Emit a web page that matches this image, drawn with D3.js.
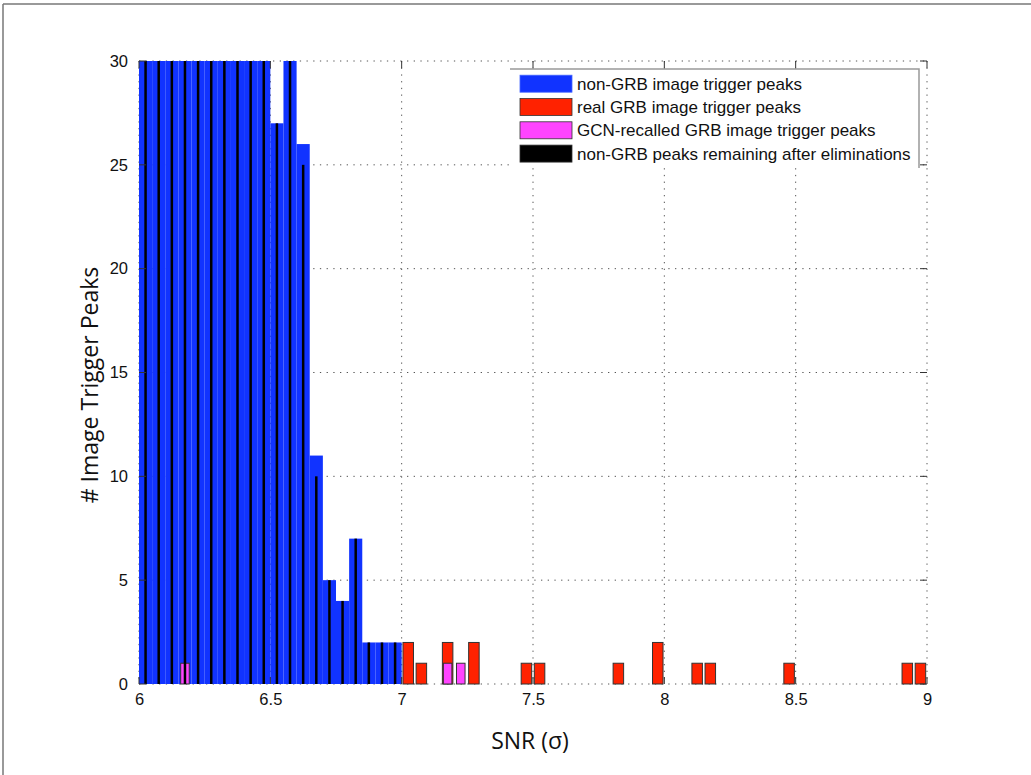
<!DOCTYPE html>
<html>
<head>
<meta charset="utf-8">
<script src="https://cdn.jsdelivr.net/npm/d3@7"></script>
<style>
  html, body { margin: 0; padding: 0; background: #fff; }
  svg { display: block; }
</style>
</head>
<body>
<svg id="chart" width="1031" height="775"></svg>
<script>
// Histogram bins: SNR from 6.0 to 9.0 in steps of 0.05
const binWidth = 0.05;
const binStarts = d3.range(60).map(i => +(6 + i * binWidth).toFixed(2));

// non-GRB image trigger peaks (bars above 30 are clipped by the axis)
const nonGrbBins = d3.range(0, 20);
const nonGrbCounts = [30, 30, 30, 30, 30, 30, 30, 30, 30, 30,
                      27, 30, 26, 11, 5, 4, 7, 2, 2, 2];

// non-GRB peaks remaining after eliminations
const remainingBins = d3.range(0, 20);
const remainingCounts = [30, 30, 30, 30, 30, 30, 30, 30, 30, 30,
                         27, 30, 25, 10, 5, 4, 7, 2, 2, 2];

// real GRB image trigger peaks
const grbBins = [20, 21, 23, 25, 29, 30, 36, 39, 42, 43, 49, 58, 59];
const grbCounts = [2, 1, 2, 2, 1, 1, 1, 2, 1, 1, 1, 1, 1];

// GCN-recalled GRB image trigger peaks
const gcnBins = [3, 23, 24];
const gcnCounts = [1, 1, 1];

const xTicks = [6, 6.5, 7, 7.5, 8, 8.5, 9];
const yTicks = [0, 5, 10, 15, 20, 25, 30];

const legendLabels = [
  "non-GRB image trigger peaks",
  "real GRB image trigger peaks",
  "GCN-recalled GRB image trigger peaks",
  "non-GRB peaks remaining after eliminations"
];
const legendColors = ["#1133ff", "#ff2200", "#ff44ff", "#000000"];

const svg = d3.select("#chart");
const W = 1031, H = 775;
const plot = { left: 139, right: 927, top: 61, bottom: 684 };

const x = d3.scaleLinear().domain([6, 9]).range([plot.left, plot.right]);
const y = d3.scaleLinear().domain([0, 30]).range([plot.bottom, plot.top]);

// page frame
svg.append("line").attr("x1", 3).attr("x2", W).attr("y1", 4).attr("y2", 4)
  .attr("stroke", "#777").attr("stroke-width", 1.5);
svg.append("line").attr("x1", 3).attr("x2", 3).attr("y1", 4).attr("y2", H)
  .attr("stroke", "#777").attr("stroke-width", 1.5);

// grid (dotted), including the box edges
const gridStyle = g => g.attr("stroke", "#555").attr("stroke-width", 1)
  .attr("stroke-dasharray", "1.3,5.4").attr("fill", "none");
const grid = svg.append("g");
grid.selectAll("line.gx").data(xTicks).join("line")
  .attr("x1", d => x(d)).attr("x2", d => x(d))
  .attr("y1", plot.top).attr("y2", plot.bottom).call(gridStyle);
grid.selectAll("line.gy").data(yTicks).join("line")
  .attr("x1", plot.left).attr("x2", plot.right)
  .attr("y1", d => y(d)).attr("y2", d => y(d)).call(gridStyle);

// bars
function barSeries(bins, counts, frac, fill, stroke) {
  const data = bins.map((b, i) => ({ x0: binStarts[b], v: counts[i] }));
  const w = x(6 + binWidth) - x(6);
  svg.append("g").selectAll("rect").data(data).join("rect")
    .attr("x", d => x(d.x0) + w * (1 - frac) / 2)
    .attr("width", w * frac)
    .attr("y", d => y(Math.min(d.v, 30)))
    .attr("height", d => y(0) - y(Math.min(d.v, 30)))
    .attr("fill", fill)
    .attr("stroke", stroke)
    .attr("stroke-width", stroke === "none" ? 0 : 1);
}
barSeries(nonGrbBins, nonGrbCounts, 1.0, legendColors[0], "none");
barSeries(grbBins, grbCounts, 0.8, legendColors[1], "#333");
barSeries(gcnBins, gcnCounts, 0.65, legendColors[2], "#333");
barSeries(remainingBins, remainingCounts, 0.19, legendColors[3], "none");

// tick marks (inward, on all four sides)
const tk = svg.append("g").attr("stroke", "#333").attr("stroke-width", 1);
xTicks.forEach(t => {
  tk.append("line").attr("x1", x(t)).attr("x2", x(t)).attr("y1", plot.bottom).attr("y2", plot.bottom - 7);
  tk.append("line").attr("x1", x(t)).attr("x2", x(t)).attr("y1", plot.top).attr("y2", plot.top + 7);
});
yTicks.forEach(t => {
  tk.append("line").attr("x1", plot.left).attr("x2", plot.left + 7).attr("y1", y(t)).attr("y2", y(t));
  tk.append("line").attr("x1", plot.right).attr("x2", plot.right - 7).attr("y1", y(t)).attr("y2", y(t));
});

// axis tick labels via d3 axes (lines hidden)
const fmt = d3.format("~g");
const xAxis = svg.append("g").attr("transform", `translate(0,${plot.bottom})`)
  .call(d3.axisBottom(x).tickValues(xTicks).tickFormat(fmt).tickSize(0).tickPadding(9));
const yAxis = svg.append("g").attr("transform", `translate(${plot.left},0)`)
  .call(d3.axisLeft(y).tickValues(yTicks).tickFormat(fmt).tickSize(0).tickPadding(11));
[xAxis, yAxis].forEach(a => {
  a.select(".domain").remove();
  a.selectAll("text").attr("font-family", "Liberation Sans, Arial, sans-serif")
    .attr("font-size", 16.5).attr("fill", "#111");
});

// axis titles
svg.append("text").attr("x", 530).attr("y", 749).attr("text-anchor", "middle")
  .attr("font-family", "'Open Sans', Lato, sans-serif").attr("font-size", 23)
  .attr("fill", "#111").text("SNR (σ)");
svg.append("text").attr("transform", "translate(98,385) rotate(-90)")
  .attr("text-anchor", "middle")
  .attr("font-family", "'Open Sans', Lato, sans-serif").attr("font-size", 23)
  .attr("fill", "#111").text("# Image Trigger Peaks");

// legend
const lg = svg.append("g");
const lx0 = 510, lx1 = 919, ly0 = 69, ly1 = 168;
lg.append("rect").attr("x", lx0).attr("y", ly0).attr("width", lx1 - lx0).attr("height", ly1 - ly0)
  .attr("fill", "#fff");
lg.append("path").attr("d", `M${lx0},${ly0}H${lx1}V${ly1}`)
  .attr("fill", "none").attr("stroke", "#999").attr("stroke-width", 1.5);
legendLabels.forEach((lab, i) => {
  const cy = 83.7 + i * 23.3;
  lg.append("rect").attr("x", 520).attr("y", cy - 8.5).attr("width", 52).attr("height", 17)
    .attr("fill", legendColors[i]).attr("stroke", i === 0 ? "#4466ff" : "#333").attr("stroke-width", 0.8);
  lg.append("text").attr("x", 577).attr("y", cy).attr("dy", "0.35em")
    .attr("font-family", "Liberation Sans, Arial, sans-serif").attr("font-size", 17)
    .attr("fill", "#111").text(lab);
});
</script>
</body>
</html>
